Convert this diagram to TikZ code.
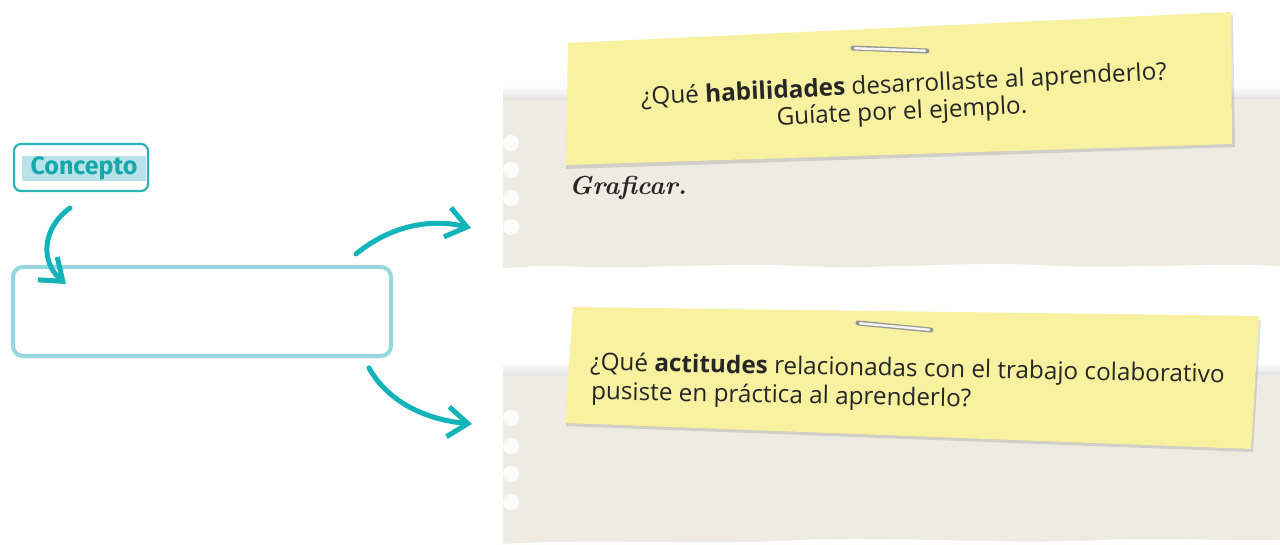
\documentclass[tikz,border=0pt]{standalone}
\usepackage{fontspec}
\newfontfamily\notefont{Open Sans}
\newfontfamily\tagfont{Fira Sans}
\usetikzlibrary{arrows.meta}
\definecolor{arrowteal}{RGB}{18,179,185}
\definecolor{boxblue}{RGB}{149,214,223}
\definecolor{tagline}{RGB}{42,179,182}
\definecolor{tagfill}{RGB}{185,226,233}
\definecolor{tagtext}{RGB}{20,168,173}
\definecolor{paper}{RGB}{238,235,227}
\definecolor{note}{RGB}{247,241,160}
\definecolor{stapleg}{RGB}{150,150,150}
\tikzset{
  arr/.style={draw=arrowteal, line width=5pt, line cap=round,
    -{Straight Barb[length=20pt,width=30pt,line width=5pt]}},
  notetext/.style={font=\notefont\fontsize{24.3}{29}\selectfont, text=black!85, inner sep=0pt},
  staple/.style={line width=5pt, draw=stapleg, line cap=round},
  staplein/.style={line width=2.4pt, draw=white!92!gray, line cap=round},
  hole/.style={fill=white, fill opacity=0.85}
}
\begin{document}
\begin{tikzpicture}[x=1pt,y=-1pt]
\useasboundingbox (0,0) rectangle (1280,544);
\fill[white] (0,0) rectangle (1280,544);

% paper panel 1
\shade[top color=white, bottom color=black!12] (503,86) rectangle (1280,100);
\fill[paper] (503,100) -- (1280,99) -- (1280,266)
  .. controls (1200,262) and (1120,270) .. (1040,265)
  .. controls (960,261) and (880,270) .. (800,266)
  .. controls (720,262) and (640,270) .. (560,266)
  .. controls (535,265) and (515,268) .. (503,268) -- cycle;
\foreach \yy in {143,170,198,227} \fill[hole] (511,\yy) circle (8);

% paper panel 2
\shade[top color=white, bottom color=black!12] (503,362) rectangle (1280,376);
\fill[paper] (503,376) -- (1280,375) -- (1280,544) -- (503,544) -- cycle;
\foreach \yy in {418,446,474,502} \fill[hole] (511,\yy) circle (8);
\fill[white] (503,544) .. controls (600,538) and (700,546) .. (800,540)
  .. controls (900,536) and (1000,545) .. (1100,540)
  .. controls (1180,537) and (1240,542) .. (1280,540) -- (1280,544) -- cycle;

% note 1
\fill[black, opacity=0.12] (569,47) -- (1233,15) -- (1235,147) -- (566,169) -- cycle;
\fill[note] (568,43) -- (1231,12) -- (1232,144) -- (566,165) -- cycle;
\draw[staple] (853,48) -- (927,51);
\draw[staplein] (855,48.3) -- (925,50.7);
\node[notetext, rotate=2.8] (q1a) at (904,86)
  {¿Qué \textbf{habilidades} desarrollaste al aprenderlo?};
\node[notetext, rotate=2.8] (q1b) at (902,113)
  {Guíate por el ejemplo.};

% note 2
\fill[black, opacity=0.12] (574,310) -- (1261,320) -- (1253,452) -- (566,426) -- cycle;
\fill[note] (573,307) -- (1259,316) -- (1251,449) -- (565,423) -- cycle;
\draw[staple] (858,323) -- (931,330);
\draw[staplein] (860,323.3) -- (929,329.7);
\node[notetext, anchor=west, rotate=-1.1] (q2a) at (590,364)
  {¿Qué \textbf{actitudes} relacionadas con el trabajo colaborativo};
\node[notetext, anchor=west, rotate=-1.1] (q2b) at (591,393)
  {pusiste en práctica al aprenderlo?};

% example answer
\node[anchor=west, inner sep=0pt, font=\bfseries\itshape\fontsize{26}{26}\selectfont, text=black!85] (ans) at (569,188) {Graficar.};

% concept tag
\node[draw=tagline, line width=2.2pt, rounded corners=7pt, minimum width=134pt, minimum height=47pt, inner sep=0pt] (concepto) at (81,167.5) {};
\node[fill=tagfill, minimum width=124pt, minimum height=25pt, inner sep=0pt, text=tagtext,
  font=\tagfont\bfseries\fontsize{25}{25}\selectfont] (conceptolabel) at (84,168.5) {Concepto};

% main box
\node[draw=boxblue, line width=4pt, rounded corners=10pt, minimum width=378pt, minimum height=89pt, inner sep=0pt] (box) at (202,311.5) {};

% arrows
\coordinate (a1s) at (70,208);
\coordinate (a1e) at (66,284);
\coordinate (a2s) at (356,254);
\coordinate (a2e) at (471,228);
\coordinate (a3s) at (369,368);
\coordinate (a3e) at (472,424);
\draw[arr] (a1s) .. controls (42,228) and (40,262) .. (a1e);
\draw[arr] (a2s) .. controls (390,226) and (430,218) .. (a2e);
\draw[arr] (a3s) .. controls (390,405) and (430,420) .. (a3e);
\end{tikzpicture}
\end{document}
